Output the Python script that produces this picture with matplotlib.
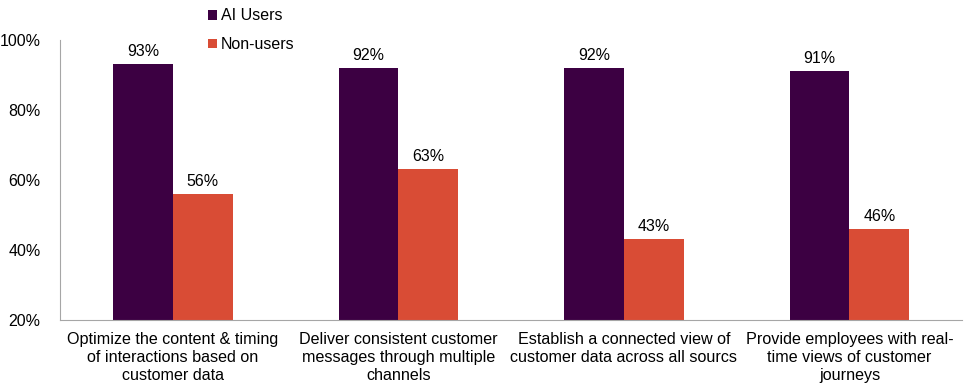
import matplotlib
matplotlib.use('Agg')
import matplotlib.pyplot as plt
import numpy as np

categories = ['Optimize the content & timing\nof interactions based on\ncustomer data',
              'Deliver consistent customer\nmessages through multiple\nchannels',
              'Establish a connected view of\ncustomer data across all sourcs',
              'Provide employees with real-\ntime views of customer\njourneys']
ai_users = [93, 92, 92, 91]
non_users = [56, 63, 43, 46]

plt.rcParams['font.family'] = ['Liberation Sans', 'DejaVu Sans']

fig = plt.figure(figsize=(9.7, 3.92), dpi=100)
ax = fig.add_axes([0.062, 0.184, 0.93, 0.714])

x = np.arange(len(categories))
w = 0.265
purple = '#3c0042'
orange = '#d94c35'
base = 20
b1 = ax.bar(x - w/2, np.array(ai_users) - base, w, bottom=base, color=purple, label='AI Users')
b2 = ax.bar(x + w/2, np.array(non_users) - base, w, bottom=base, color=orange, label='Non-users')

for xi, v in zip(x - w/2, ai_users):
    ax.text(xi, v + 1.5, f'{v}%', ha='center', va='bottom', fontsize=11.5)
for xi, v in zip(x + w/2, non_users):
    ax.text(xi, v + 1.5, f'{v}%', ha='center', va='bottom', fontsize=11.5)

ax.set_xlim(-0.5, 3.5)
ax.set_ylim(20, 100)
ax.set_yticks([20, 40, 60, 80, 100])
ax.set_yticklabels(['20%', '40%', '60%', '80%', '100%'], fontsize=11.5)
ax.set_xticks(x)
ax.set_xticklabels(categories, fontsize=11.6, linespacing=1.25)
ax.tick_params(length=0, pad=9)
ax.tick_params(axis='y', pad=14)
for s in ['top', 'right']:
    ax.spines[s].set_visible(False)
ax.spines['left'].set_color('#a6a6a6')
ax.spines['bottom'].set_color('#a6a6a6')

fig.legend(handles=[b1, b2], loc='upper left', bbox_to_anchor=(0.2, 1.015), frameon=False,
           fontsize=11.5, handlelength=0.55, handleheight=0.55, handletextpad=0.25, labelspacing=0.85)

fig.savefig('out.png', dpi=100)
